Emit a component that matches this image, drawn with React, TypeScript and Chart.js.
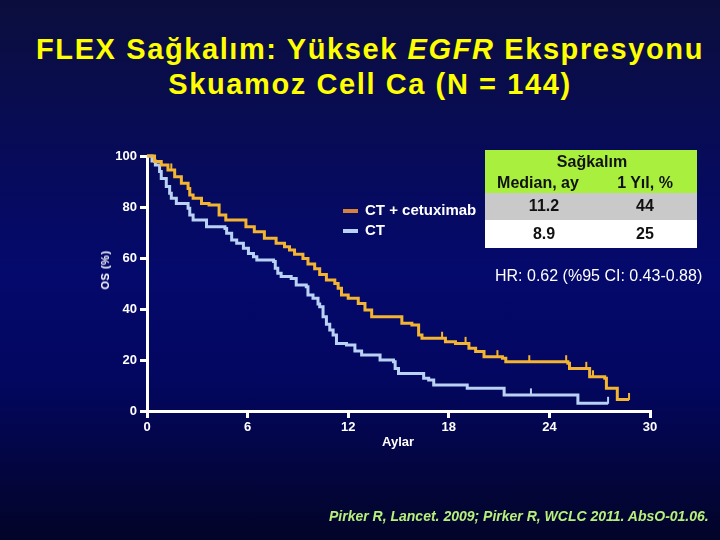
import React, { useEffect, useRef } from "react";
import { Chart, registerables } from "chart.js";

Chart.register(...registerables);

// CT + cetuximab (months, survival %)
const cetuxTimes = [0, 0.45, 0.85, 1.25, 1.65, 2.05, 2.45, 2.55, 2.75, 3.25, 3.7, 4.3, 4.7, 5.9, 6.4, 7.0, 7.7, 8.2, 8.5, 8.8, 9.3, 9.6, 10.0, 10.3, 10.7, 11.2, 11.4, 11.6, 12.0, 12.6, 13.0, 13.4, 15.2, 15.8, 16.2, 16.4, 17.8, 18.4, 19.2, 19.6, 20.1, 21.2, 21.4, 25.1, 25.2, 26.4, 27.3, 27.4, 28.05, 28.75];
const cetuxSurv = [100, 97.8, 96.5, 94.5, 91.9, 89.3, 87.3, 84.7, 83.4, 81.4, 80.8, 76.9, 74.9, 72.3, 70.3, 67.7, 65.8, 64.4, 63.1, 61.5, 59.8, 57.6, 55.8, 53.5, 51.4, 50.0, 48.1, 45.5, 44.2, 42.2, 39.6, 37.0, 34.4, 33.7, 29.8, 28.5, 27.2, 26.5, 24.6, 23.3, 21.3, 20.7, 19.3, 18.7, 16.7, 13.4, 12.8, 8.9, 4.5, 4.5];
const cetuxCensor = [1.45, 17.6, 19.0, 20.9, 22.8, 25.0, 26.2, 26.6, 28.75];

// CT alone
const ctTimes = [0, 0.3, 0.5, 0.75, 0.85, 1.15, 1.35, 1.45, 1.75, 2.45, 2.55, 2.75, 3.55, 4.65, 4.75, 5.05, 5.35, 5.75, 6.05, 6.35, 6.55, 7.55, 7.65, 7.8, 8.0, 8.6, 8.9, 9.5, 9.6, 9.9, 10.2, 10.3, 10.5, 10.7, 10.9, 11.1, 11.3, 11.9, 12.4, 12.8, 13.9, 14.7, 14.8, 15.0, 16.5, 16.8, 17.1, 19.1, 21.3, 25.7, 27.5];
const ctSurv = [100, 98, 96.5, 93.9, 91.2, 88.0, 85.4, 83.4, 81.4, 79.5, 76.9, 74.9, 72.3, 71.6, 69.7, 67.1, 65.8, 63.8, 61.8, 60.5, 59.2, 58.6, 56.0, 54.0, 52.7, 52.0, 49.4, 48.7, 45.5, 44.2, 42.0, 40.9, 37.0, 34.0, 31.8, 29.8, 26.5, 25.9, 23.5, 22.0, 20.0, 19.3, 16.7, 14.7, 12.8, 12.2, 10.2, 8.9, 6.3, 3.0, 3.0];
const ctCensor = [22.9, 27.5];

const xTicks = [0, 6, 12, 18, 24, 30];
const yTicks = [0, 20, 40, 60, 80, 100];

const seriesNames = ["CT + cetuximab", "CT"];
const tableHeader = ["Sağkalım", "Median, ay", "1 Yıl, %"];
const tableMedians = ["11.2", "8.9"];
const tableOneYear = ["44", "25"];

const GOLD = "#f2b431";
const BLUE = "#b9d1f2";

function survAt(times: number[], surv: number[], t: number) {
  let s = surv[0];
  for (let i = 0; i < times.length; i++) {
    if (times[i] <= t) s = surv[i];
  }
  return s;
}

export default function App() {
  const ref = useRef<HTMLCanvasElement>(null);

  useEffect(() => {
    if (!ref.current) return;
    const chart = new Chart(ref.current, {
      type: "line",
      data: {
        datasets: [
          {
            label: seriesNames[0],
            data: cetuxTimes.map((t, i) => ({ x: t, y: cetuxSurv[i] })),
            borderColor: GOLD,
            borderWidth: 3,
            stepped: true,
            pointRadius: 0,
            fill: false,
            clip: false as any,
          },
          {
            label: seriesNames[1],
            data: ctTimes.map((t, i) => ({ x: t, y: ctSurv[i] })),
            borderColor: BLUE,
            borderWidth: 3,
            stepped: true,
            pointRadius: 0,
            fill: false,
            clip: false as any,
          },
          {
            label: "c1",
            data: cetuxCensor.map((t) => ({ x: t, y: survAt(cetuxTimes, cetuxSurv, t) + 1.2 })),
            showLine: false,
            pointStyle: "line",
            rotation: 90,
            pointRadius: 3.5,
            borderColor: GOLD,
            pointBorderWidth: 2,
            clip: false as any,
          } as any,
          {
            label: "c2",
            data: ctCensor.map((t) => ({ x: t, y: survAt(ctTimes, ctSurv, t) + 1.2 })),
            showLine: false,
            pointStyle: "line",
            rotation: 90,
            pointRadius: 3.5,
            borderColor: BLUE,
            pointBorderWidth: 2,
            clip: false as any,
          } as any,
        ],
      },
      options: {
        animation: false,
        responsive: false,
        layout: { padding: { left: 0, right: 70, top: 156, bottom: 99 } },
        plugins: { legend: { display: false }, tooltip: { enabled: false } },
        scales: {
          x: {
            type: "linear",
            min: 0,
            max: 30,
            afterBuildTicks: (axis: any) => {
              axis.ticks = xTicks.map((v) => ({ value: v }));
            },
            afterFit: (axis: any) => {
              axis.height = 30;
            },
            border: { display: true, color: "#ffffff", width: 3 },
            grid: { drawOnChartArea: false, color: "#ffffff", tickLength: 7, lineWidth: 3 },
            ticks: {
              color: "#ffffff",
              padding: 2,
              font: { family: "'Liberation Sans', Arial", size: 13, weight: "bold" },
            },
          },
          y: {
            type: "linear",
            min: 0,
            max: 100,
            afterBuildTicks: (axis: any) => {
              axis.ticks = yTicks.map((v) => ({ value: v }));
            },
            afterFit: (axis: any) => {
              axis.width = 147;
            },
            border: { display: true, color: "#ffffff", width: 3 },
            grid: { drawOnChartArea: false, color: "#ffffff", tickLength: 7, lineWidth: 3 },
            ticks: {
              color: "#ffffff",
              padding: 3,
              font: { family: "'Liberation Sans', Arial", size: 13, weight: "bold" },
            },
          },
        },
      },
    });
    return () => chart.destroy();
  }, []);

  const font = "'Liberation Sans', Arial, sans-serif";
  const abs = (style: React.CSSProperties): React.CSSProperties => ({
    position: "absolute",
    fontFamily: font,
    whiteSpace: "nowrap",
    ...style,
  });

  const titleStyle: React.CSSProperties = {
    left: 0,
    width: 740,
    textAlign: "center",
    color: "#ffff00",
    fontSize: 29,
    fontWeight: "bold",
    lineHeight: "34px",
    letterSpacing: "1.6px",
  };

  const cell = (left: number, top: number, bold: boolean): React.CSSProperties =>
    abs({
      left,
      top,
      width: 100,
      textAlign: "center",
      color: "#111",
      fontSize: 16,
      fontWeight: bold ? "bold" : "normal",
    });

  return (
    <div
      style={{
        position: "fixed",
        left: 0,
        top: 0,
        width: 720,
        height: 540,
        overflow: "hidden",
        background:
          "linear-gradient(to bottom, #0b0e3c 0%, #070b5a 30%, #04096c 50%, #030760 70%, #03053a 90%, #020428 100%)",
      }}
    >
      <div style={abs({ ...titleStyle, top: 32 })}>
        FLEX Sağkalım: Yüksek <i>EGFR</i> Ekspresyonu
      </div>
      <div style={abs({ ...titleStyle, top: 67 })}>Skuamoz Cell Ca (N = 144)</div>

      <canvas ref={ref} width={720} height={540} style={{ position: "absolute", left: 0, top: 0 }} />

      {/* y-axis title */}
      <div
        style={abs({
          left: 105,
          top: 270,
          transform: "translate(-50%, -50%) rotate(-90deg)",
          color: "#ffffff",
          fontSize: 11,
          fontWeight: "bold",
          letterSpacing: "0.5px",
        })}
      >
        OS (%)
      </div>
      {/* x-axis title */}
      <div style={abs({ left: 382, top: 434, color: "#ffffff", fontSize: 13, fontWeight: "bold" })}>Aylar</div>

      {/* legend */}
      <div style={abs({ left: 343, top: 209, width: 15, height: 4, background: "#d6823f" })} />
      <div style={abs({ left: 343, top: 229, width: 15, height: 4, background: BLUE })} />
      <div style={abs({ left: 365, top: 201, color: "#ffffff", fontSize: 15, fontWeight: "bold" })}>
        {seriesNames[0]}
      </div>
      <div style={abs({ left: 365, top: 221, color: "#ffffff", fontSize: 15, fontWeight: "bold" })}>
        {seriesNames[1]}
      </div>

      {/* table */}
      <div style={abs({ left: 485, top: 150, width: 212, height: 43, background: "#a9f03e" })} />
      <div style={abs({ left: 485, top: 193, width: 212, height: 27, background: "#c9c9c9" })} />
      <div style={abs({ left: 485, top: 220, width: 212, height: 28, background: "#ffffff" })} />
      <div style={cell(542, 153, true)}>{tableHeader[0]}</div>
      <div style={cell(488, 174, true)}>{tableHeader[1]}</div>
      <div style={cell(595, 174, true)}>{tableHeader[2]}</div>
      <div style={cell(494, 197, true)}>{tableMedians[0]}</div>
      <div style={cell(595, 197, true)}>{tableOneYear[0]}</div>
      <div style={cell(494, 225, true)}>{tableMedians[1]}</div>
      <div style={cell(595, 225, true)}>{tableOneYear[1]}</div>

      {/* HR */}
      <div style={abs({ left: 495, top: 267, color: "#ffffff", fontSize: 16 })}>HR: 0.62 (%95 CI: 0.43-0.88)</div>

      {/* footer */}
      <div
        style={abs({
          left: 329,
          top: 508,
          color: "#b6f07a",
          fontSize: 14,
          fontWeight: "bold",
          fontStyle: "italic",
        })}
      >
        Pirker R, Lancet. 2009; Pirker R, WCLC 2011. AbsO-01.06.
      </div>
    </div>
  );
}
